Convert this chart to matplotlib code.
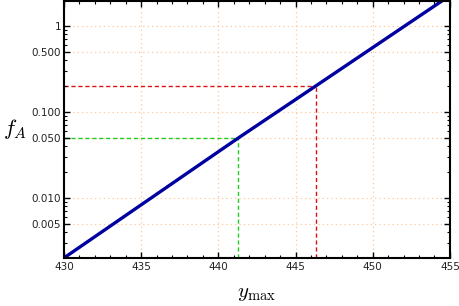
import numpy as np
import matplotlib
matplotlib.use("Agg")
import matplotlib.pyplot as plt
from matplotlib.ticker import FixedLocator, FixedFormatter, MultipleLocator, LogLocator, NullFormatter

plt.rcParams['mathtext.fontset'] = 'cm'

# data
y_max = [430.0, 441.3, 446.3, 455.0]
f_A = [0.00202, 0.05, 0.2, 2.25]

# marked levels
levels = [0.05, 0.2]
level_x = [441.3, 446.3]
level_colors = ['#22cc22', '#dd1111']

yticks = [0.005, 0.01, 0.05, 0.1, 0.5, 1]
ytick_labels = ['0.005', '0.010', '0.050', '0.100', '0.500', '1']
xticks = [430, 435, 440, 445, 450, 455]

fig = plt.figure(figsize=(4.6, 3.06), dpi=100)
ax = fig.add_axes([0.139, 0.157, 0.839, 0.84])

ax.set_yscale('log')
ax.set_xlim(430, 455)
ax.set_ylim(0.00202, 1.95)

# grid
for xt in xticks[1:-1]:
    ax.axvline(xt, color='#ffc89a', lw=0.9, ls=(0, (1, 2.5)), zorder=0)
for yt in yticks:
    ax.axhline(yt, color='#ffc89a', lw=0.9, ls=(0, (1, 2.5)), zorder=0)

# dashed guide lines
for lv, lx, c in zip(levels, level_x, level_colors):
    ax.plot([430, lx], [lv, lv], color=c, lw=1.0, ls=(0, (3, 2)), zorder=1)
    ax.plot([lx, lx], [0.00202, lv], color=c, lw=1.0, ls=(0, (3, 2)), zorder=1)

ax.plot(y_max, f_A, color='#0000a0', lw=2.4, zorder=2, solid_capstyle='butt')

ax.xaxis.set_major_locator(FixedLocator(xticks))
ax.xaxis.set_minor_locator(MultipleLocator(1))
ax.yaxis.set_major_locator(FixedLocator(yticks))
ax.yaxis.set_major_formatter(FixedFormatter(ytick_labels))
ax.yaxis.set_minor_locator(LogLocator(base=10, subs=np.arange(1, 10)))
ax.yaxis.set_minor_formatter(NullFormatter())

ax.tick_params(which='both', direction='in', top=True, right=True, labelsize=7.5,
               colors='black', labelcolor='#222222')
ax.tick_params(which='major', length=4, width=1)
ax.tick_params(which='minor', length=2.5, width=0.8)
ax.tick_params(axis='x', pad=3)
ax.tick_params(axis='y', pad=2)

for s in ax.spines.values():
    s.set_linewidth(1.5)

ax.set_xlabel(r'$y_{\max}$', fontsize=15, labelpad=8)
ax.set_ylabel(r'$f_A$', fontsize=16, rotation=0, labelpad=12, va='center')

fig.savefig('out.png', dpi=100)
